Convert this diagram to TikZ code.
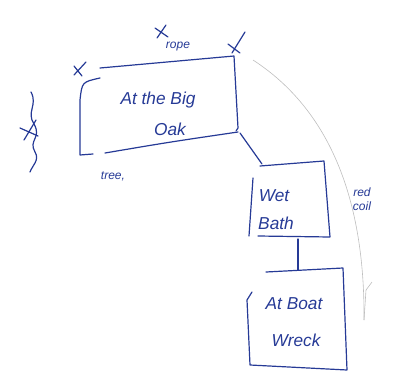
\documentclass[tikz,border=0pt]{standalone}
\usepackage{fontspec}
\setmainfont{Liberation Sans}
\usetikzlibrary{calc}
\definecolor{pen}{RGB}{38,58,150}
\definecolor{faint}{RGB}{190,190,190}
\tikzset{
  ink/.style={draw=pen, line width=1.2pt, line cap=round, line join=round},
  scrawl/.style={text=pen, font=\itshape\LARGE, inner sep=0pt},
  small scrawl/.style={text=pen, font=\itshape\large, inner sep=0pt},
}

\begin{document}
\begin{tikzpicture}[x=1pt, y=-1pt]
			%%%%% START %%%%%
			\useasboundingbox (0, 0) rectangle (405, 378);
			
			% big oak box
			\draw[ink] (100, 68) -- (234, 56) -- (238, 128) -- (236, 131);
			\draw[ink] (100, 78) .. controls (82, 82) .. (80, 100) -- (80, 155) -- (93, 154);
			\draw[ink] (105, 153) .. controls (170, 142) .. (238, 132);
			\node[scrawl] (oaka) at (158, 100) {At the Big};
			\node[scrawl] (oakb) at (170, 129) {Oak};
			
			% wet bath box
			\draw[ink] (260, 166) -- (324, 161) -- (330, 237) -- (258, 236);
			\draw[ink] (253, 178) -- (249, 236);
			\node[scrawl] (wet) at (274, 196) {Wet};
			\node[scrawl] (bath) at (276, 223) {Bath};
			
			% boat wreck box
			\draw[ink] (266, 272) -- (343, 268) -- (347, 370) -- (250, 365) -- (247, 300) -- (252, 292);
			\node[scrawl] (boat) at (294, 304) {At Boat};
			\node[scrawl] (wreck) at (296, 340) {Wreck};
			
			% links
			\coordinate (oakout) at (240, 133);
			\coordinate (bathin) at (262, 164);
			\coordinate (bathout) at (298, 239);
			\coordinate (wreckin) at (298, 270);
			\draw[ink] (oakout) -- (bathin);
			\draw[ink] (bathout) -- (wreckin);
			
			% crosses
			\draw[ink] (74, 75) -- (86, 62) (74, 66) -- (82, 76);
			\draw[ink] (157, 38) -- (166, 25) (155, 28) -- (168, 37);
			\draw[ink] (228, 44) -- (240, 53) (232, 53) -- (245, 32);
			
			% notes
			\node[small scrawl] (rope) at (178, 47) {rope};
			\node[small scrawl] (tree) at (113, 176) {tree,};
			\node[small scrawl, align=center] (coil) at (362, 199) {red\\coil};
			\draw[ink] (31, 92) .. controls (38, 105) and (26, 112) .. (34, 124)
			  .. controls (42, 138) and (28, 140) .. (35, 152)
			  .. controls (40, 160) and (32, 166) .. (30, 172);
			\draw[ink] (20, 128) -- (38, 136) (24, 140) -- (36, 120);
			
			% faint guide line
			\draw[faint, line width=0.6pt] (253, 60) .. controls (330, 110) and (365, 200) .. (364, 320);
			\draw[faint, line width=0.6pt] (364, 320) -- (366, 290) -- (372, 282);
			%%%%% END %%%%%
\end{tikzpicture}
\end{document}
